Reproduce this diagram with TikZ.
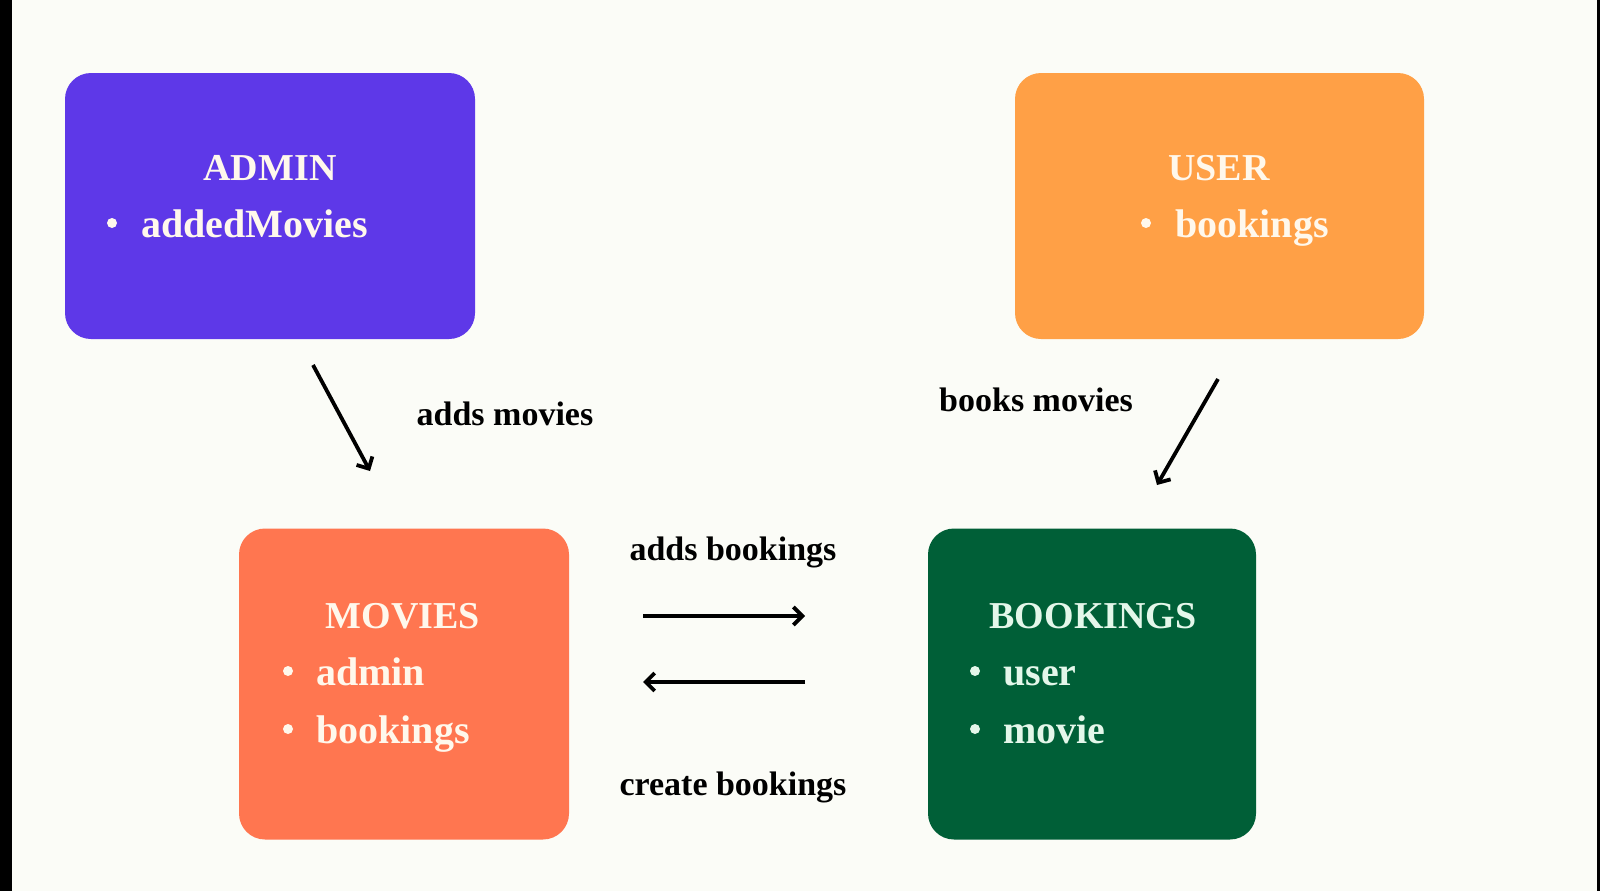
\documentclass[tikz,border=0pt]{standalone}
\usepackage{fontspec}
\setmainfont{Liberation Serif}
\usetikzlibrary{arrows.meta}
\definecolor{bgcol}{HTML}{FBFCF7}
\definecolor{admincol}{HTML}{5E38E8}
\definecolor{usercol}{HTML}{FFA046}
\definecolor{moviecol}{HTML}{FF7650}
\definecolor{bookcol}{HTML}{005F37}
\definecolor{cream}{HTML}{FFF8EC}
\definecolor{mint}{HTML}{E4F7EA}
\tikzset{
  box/.style={rounded corners=26pt, inner sep=0pt, draw=none},
  title/.style={anchor=base, inner sep=0pt, font=\fontsize{38}{46}\selectfont\bfseries},
  item/.style={anchor=base west, inner sep=0pt, font=\fontsize{40}{48}\selectfont\bfseries},
  dot/.style={circle, inner sep=0pt, minimum size=10pt},
  lbl/.style={anchor=base, inner sep=0pt, font=\fontsize{34}{40}\selectfont\bfseries, text=black},
  conn/.style={line width=3.8pt, -{Straight Barb[length=9pt,width=18pt]}}
}
\begin{document}
\begin{tikzpicture}[x=1pt,y=-1pt]
\useasboundingbox (0,0) rectangle (1600,891);
\fill[bgcol] (0,0) rectangle (1600,891);
\fill[black] (0,0) rectangle (12,891);
\fill[black] (1597,0) rectangle (1600,891);

% boxes
\node[box, fill=admincol, minimum width=410pt, minimum height=266pt] (admin) at (270,206) {};
\node[box, fill=usercol, minimum width=409pt, minimum height=266pt] (user) at (1219.5,206) {};
\node[box, fill=moviecol, minimum width=330pt, minimum height=311pt] (movies) at (404,684) {};
\node[box, fill=bookcol, minimum width=328pt, minimum height=311pt] (bookings) at (1092,684) {};

% ADMIN
\node[title, text=cream] (admint) at (270,180) {ADMIN};
\node[dot, fill=cream] (adminb1) at (112,223) {};
\node[item, text=cream] (admini1) at (141,237) {addedMovies};

% USER
\node[title, text=cream] (usert) at (1219,180) {USER};
\node[dot, fill=cream] (userb1) at (1146,223) {};
\node[item, text=cream] (useri1) at (1175,237) {bookings};

% MOVIES
\node[title, text=cream] (moviest) at (403,628) {MOVIES};
\node[dot, fill=cream] (moviesb1) at (288,671) {};
\node[item, text=cream] (moviesi1) at (316,685) {admin};
\node[dot, fill=cream] (moviesb2) at (288,729) {};
\node[item, text=cream] (moviesi2) at (316,743) {bookings};

% BOOKINGS
\node[title, text=mint] (bookingst) at (1093,628) {BOOKINGS};
\node[dot, fill=mint] (bookingsb1) at (975,671) {};
\node[item, text=mint] (bookingsi1) at (1003,685) {user};
\node[dot, fill=mint] (bookingsb2) at (975,729) {};
\node[item, text=mint] (bookingsi2) at (1003,743) {movie};

% labels
\node[lbl] (l1) at (505,425) {adds movies};
\node[lbl] (l2) at (1036,411) {books movies};
\node[lbl] (l3) at (733,560) {adds bookings};
\node[lbl] (l4) at (733,795) {create bookings};

% connector end points
\coordinate (a1) at (313,365);
\coordinate (a2) at (370,471);
\coordinate (u1) at (1218,379);
\coordinate (u2) at (1157,485);
\coordinate (r1) at (643,616);
\coordinate (r2) at (805,616);
\coordinate (s1) at (805,682);
\coordinate (s2) at (643,682);

\draw[conn] (a1) -- (a2);
\draw[conn] (u1) -- (u2);
\draw[conn] (r1) -- (r2);
\draw[conn] (s1) -- (s2);
\end{tikzpicture}
\end{document}
